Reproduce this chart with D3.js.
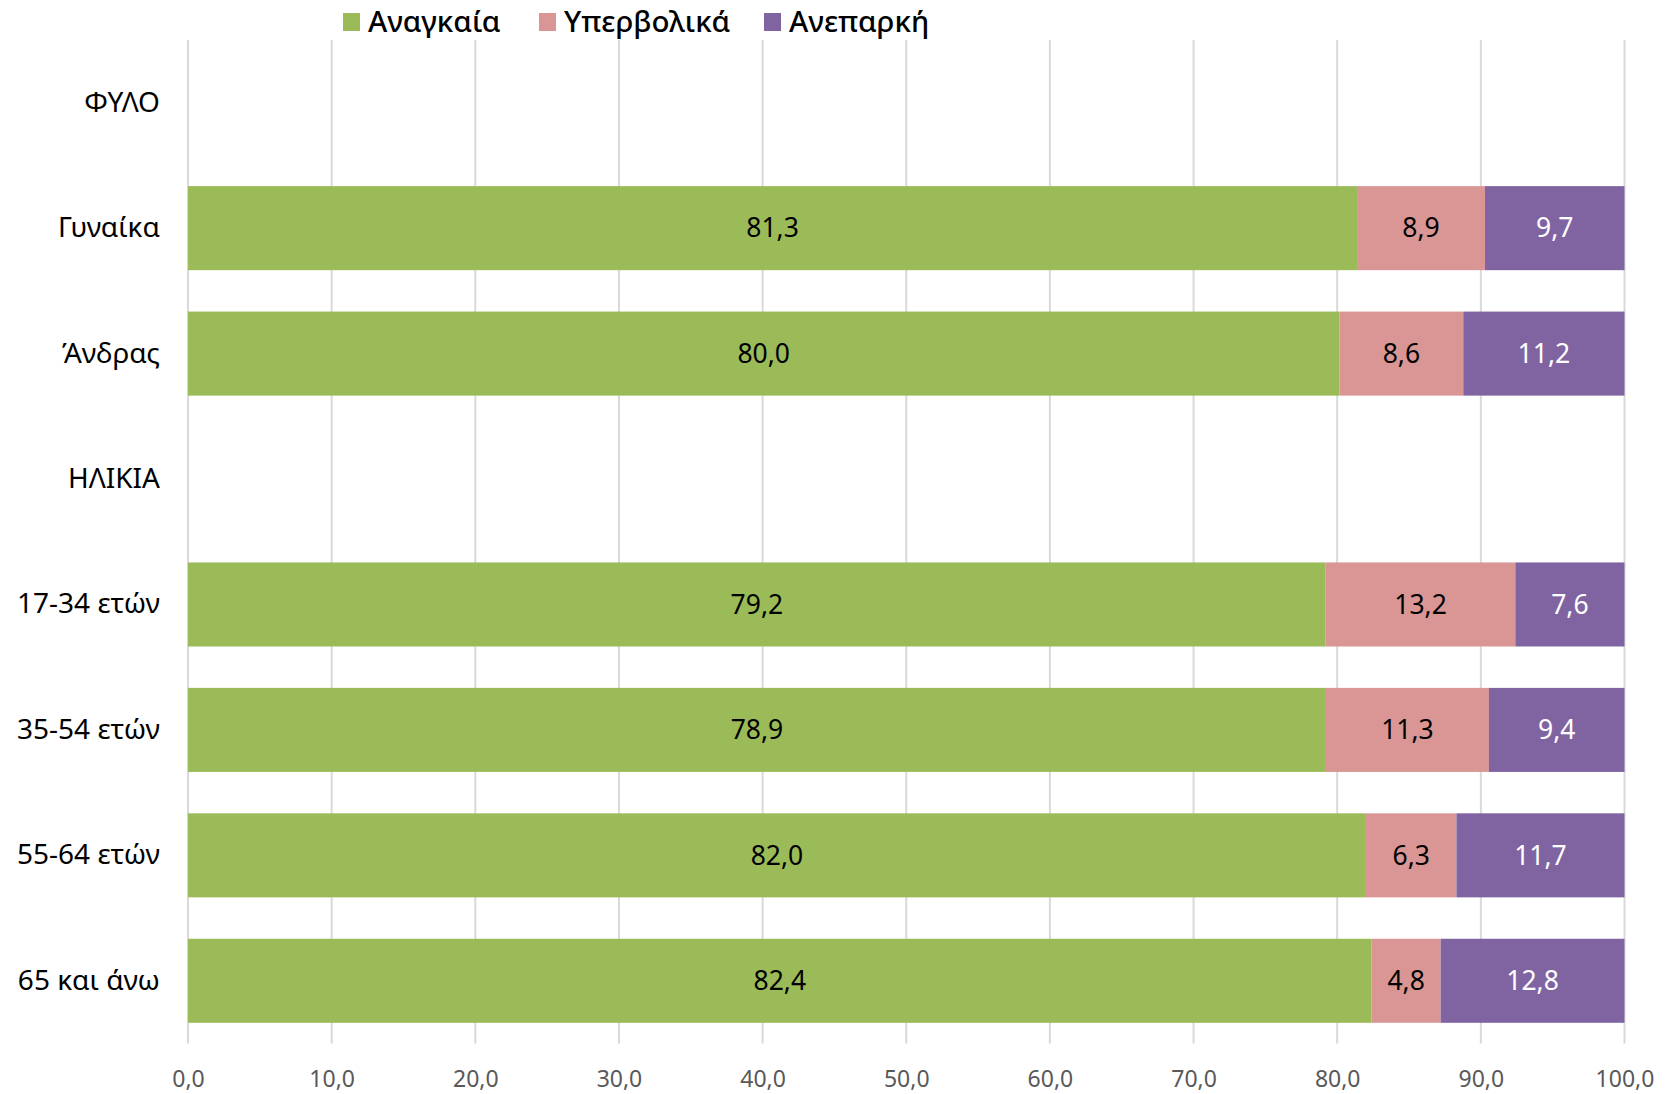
<!DOCTYPE html>
<html>
<head>
<meta charset="utf-8">
<script src="https://cdn.jsdelivr.net/npm/d3@7"></script>
<style>
  html, body { margin: 0; padding: 0; background: #fff; }
  svg { display: block; }
</style>
</head>
<body>
<svg id="chart" width="1668" height="1094"></svg>
<script>
const categories = ["ΦΥΛΟ", "Γυναίκα", "Άνδρας", "ΗΛΙΚΙΑ", "17-34 ετών", "35-54 ετών", "55-64 ετών", "65 και άνω"];
const seriesNames = ["Αναγκαία", "Υπερβολικά", "Ανεπαρκή"];
const anagkaia   = [null, 81.3, 80.0, null, 79.2, 78.9, 82.0, 82.4];
const yperbolika = [null, 8.9, 8.6, null, 13.2, 11.3, 6.3, 4.8];
const aneparki   = [null, 9.7, 11.2, null, 7.6, 9.4, 11.7, 12.8];
const xTicks = [0, 10, 20, 30, 40, 50, 60, 70, 80, 90, 100];
const colors = ["#9BBB59", "#D99694", "#8064A2"];
const labelColors = ["#000000", "#000000", "#FFFFFF"];

const svg = d3.select("#chart");
const fontFam = "'Noto Sans', 'Open Sans', sans-serif";

const x = d3.scaleLinear().domain([0, 100]).range([188, 1624.5]);
const y = d3.scaleBand().domain(categories).range([40, 1043.5]).paddingInner(0.33).paddingOuter(0.165);

// gridlines
svg.append("g").selectAll("line").data(xTicks).join("line")
  .attr("x1", d => x(d)).attr("x2", d => x(d))
  .attr("y1", 40).attr("y2", 1043.5)
  .attr("stroke", "#D9D9D9").attr("stroke-width", 2);

// x axis labels
const xAxis = d3.axisBottom(x).tickValues(xTicks).tickSize(0).tickPadding(0)
  .tickFormat(d => d3.format(".1f")(d).replace(".", ","));
const gx = svg.append("g").attr("transform", "translate(0,1071)").call(xAxis);
gx.select(".domain").remove();
gx.selectAll("text").attr("font-family", fontFam).attr("font-size", 23).attr("fill", "#595959");

// y axis labels
const yAxis = d3.axisLeft(y).tickSize(0).tickPadding(0);
const gy = svg.append("g").attr("transform", "translate(160,0)").call(yAxis);
gy.select(".domain").remove();
gy.selectAll("text").attr("font-family", fontFam).attr("font-size", 28).attr("fill", "#000");

// stacked data (100% stacked)
const rows = categories.map((c, i) => ({
  cat: c,
  vals: [anagkaia[i], yperbolika[i], aneparki[i]]
}));
const segs = [];
rows.forEach(r => {
  if (r.vals[0] == null) return;
  const total = d3.sum(r.vals);
  let acc = 0;
  r.vals.forEach((v, k) => {
    const x0 = acc / total * 100;
    acc += v;
    const x1 = acc / total * 100;
    segs.push({ cat: r.cat, k, v, x0, x1 });
  });
});

svg.append("g").selectAll("rect").data(segs).join("rect")
  .attr("x", d => x(d.x0)).attr("width", d => x(d.x1) - x(d.x0))
  .attr("y", d => y(d.cat)).attr("height", y.bandwidth())
  .attr("fill", d => colors[d.k]);

svg.append("g").selectAll("text").data(segs).join("text")
  .attr("x", d => (x(d.x0) + x(d.x1)) / 2)
  .attr("y", d => y(d.cat) + y.bandwidth() / 2)
  .attr("dy", "0.35em")
  .attr("text-anchor", "middle")
  .attr("font-family", fontFam).attr("font-size", 26.5)
  .attr("fill", d => labelColors[d.k])
  .text(d => d3.format(".1f")(d.v).replace(".", ","));

// legend
const legendX = [343, 539, 764];
const lg = svg.append("g");
seriesNames.forEach((s, i) => {
  lg.append("rect").attr("x", legendX[i]).attr("y", 13).attr("width", 17).attr("height", 18).attr("fill", colors[i]);
  lg.append("text").attr("x", legendX[i] + 25).attr("y", 22).attr("dy", "0.35em")
    .attr("font-family", fontFam).attr("font-size", 29.5).attr("font-weight", 500)
    .attr("fill", "#000").text(s);
});
</script>
</body>
</html>
